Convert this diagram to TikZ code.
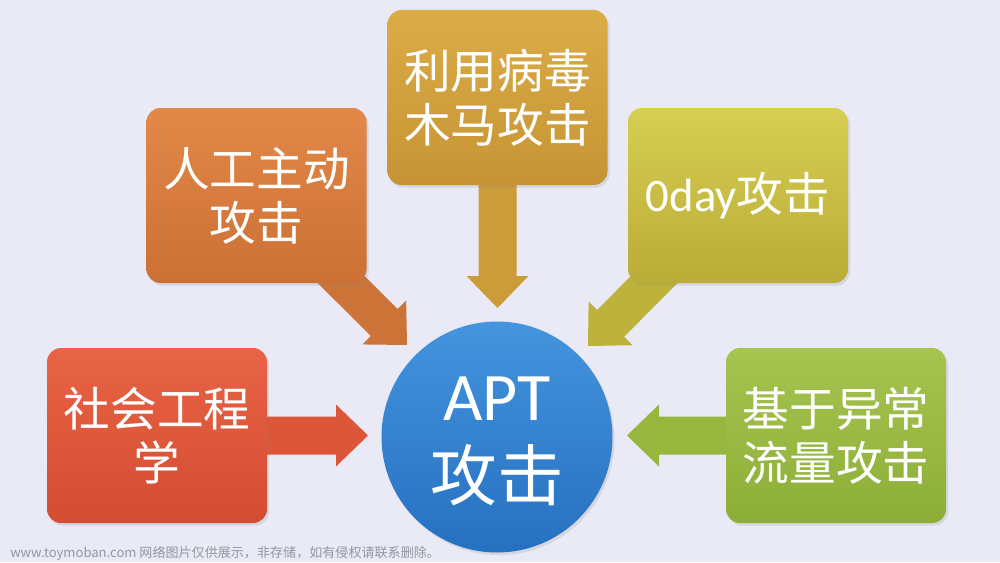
\documentclass[tikz,border=0pt]{standalone}
\usepackage{fontspec}
\setmainfont{Noto Sans CJK SC}
\newfontfamily\latf{Carlito}
\usetikzlibrary{calc,shadows}
\definecolor{bg}{RGB}{233,234,246}
\definecolor{b1t}{RGB}{232,100,70}\definecolor{b1b}{RGB}{212,76,50}\definecolor{a1}{RGB}{222,86,56}
\definecolor{b2t}{RGB}{226,136,72}\definecolor{b2b}{RGB}{204,112,52}\definecolor{a2}{RGB}{204,116,56}
\definecolor{b3t}{RGB}{220,172,72}\definecolor{b3b}{RGB}{198,148,52}\definecolor{a3}{RGB}{204,156,56}
\definecolor{b4t}{RGB}{214,206,82}\definecolor{b4b}{RGB}{186,172,55}\definecolor{a4}{RGB}{188,178,60}
\definecolor{b5t}{RGB}{166,196,80}\definecolor{b5b}{RGB}{140,174,55}\definecolor{a5}{RGB}{150,182,62}
\definecolor{ct}{RGB}{68,148,222}\definecolor{cb}{RGB}{38,112,192}
\definecolor{wm}{RGB}{150,150,160}
\pgfdeclarelayer{back}
\pgfsetlayers{back,main}
\newcommand{\blockarr}[3]{%
  \coordinate (hb) at ($(#2)!24pt!(#1)$);
  \fill[#3] ($(#1)!14.25pt!90:(#2)$) -- ($(hb)!14.25pt!90:(#2)$) -- ($(hb)!23.25pt!90:(#2)$) -- (#2)
    -- ($(hb)!23.25pt!-90:(#2)$) -- ($(hb)!14.25pt!-90:(#2)$) -- ($(#1)!14.25pt!-90:(#2)$) -- cycle;}
\tikzset{
  box/.style={rounded corners=10.5pt, minimum width=165pt, minimum height=131.25pt, inner sep=0pt,
    align=center, text=white, font=\fontsize{35}{40.5}\selectfont,
    drop shadow={opacity=0.18, shadow xshift=1.5pt, shadow yshift=-2pt}},
  hub/.style={circle, minimum size=173.25pt, inner sep=0pt, top color=ct, bottom color=cb,
    drop shadow={opacity=0.18, shadow xshift=1.5pt, shadow yshift=-2pt}},
  hubtext/.style={text=white, inner sep=0pt}
}
\begin{document}
\begin{tikzpicture}[x=0.75pt, y=0.75pt]
\useasboundingbox (0,0) rectangle (1000,562);
\begin{pgfonlayer}{back}
\fill[bg] (0,0) rectangle (1000,562);
\end{pgfonlayer}
% boxes
\node[box, top color=b1t, bottom color=b1b] (b1) at (157,126.5) {社会工程\\学};
\node[box, top color=b2t, bottom color=b2b] (b2) at (256.5,366.5) {人工主动\\攻击};
\node[box, top color=b3t, bottom color=b3b] (b3) at (497.5,464.5) {利用病毒\\木马攻击};
\node[box, top color=b4t, bottom color=b4b] (b4) at (738,366.5) {{\latf 0day}攻击};
\node[box, top color=b5t, bottom color=b5b] (b5) at (836,126.5) {基于异常\\流量攻击};
% hub
\node[hub] (c) at (497,125) {};
\node[hubtext, font=\latf\fontsize{51}{51}\selectfont] (apt) at ($(c.center)+(0,38)$) {APT};
\node[hubtext, font=\fontsize{50}{50}\selectfont] (gj) at ($(c.center)+(0,-38)$) {攻击};
% arrow tips
\coordinate (t1) at (368,126.5);
\coordinate (t2) at (407,217);
\coordinate (t3) at (497.5,254);
\coordinate (t4) at (588,216);
\coordinate (t5) at (627,126.5);
\begin{pgfonlayer}{back}
\blockarr{b1.center}{t1}{a1}
\blockarr{b2.center}{t2}{a2}
\blockarr{b3.center}{t3}{a3}
\blockarr{b4.center}{t4}{a4}
\blockarr{b5.center}{t5}{a5}
\end{pgfonlayer}
% watermark
\node[anchor=west, inner sep=0pt, text=wm, font=\fontsize{9.8}{11}\selectfont] (wmk) at (10,9) {www.toymoban.com 网络图片仅供展示，非存储，如有侵权请联系删除。};
\end{tikzpicture}
\end{document}
